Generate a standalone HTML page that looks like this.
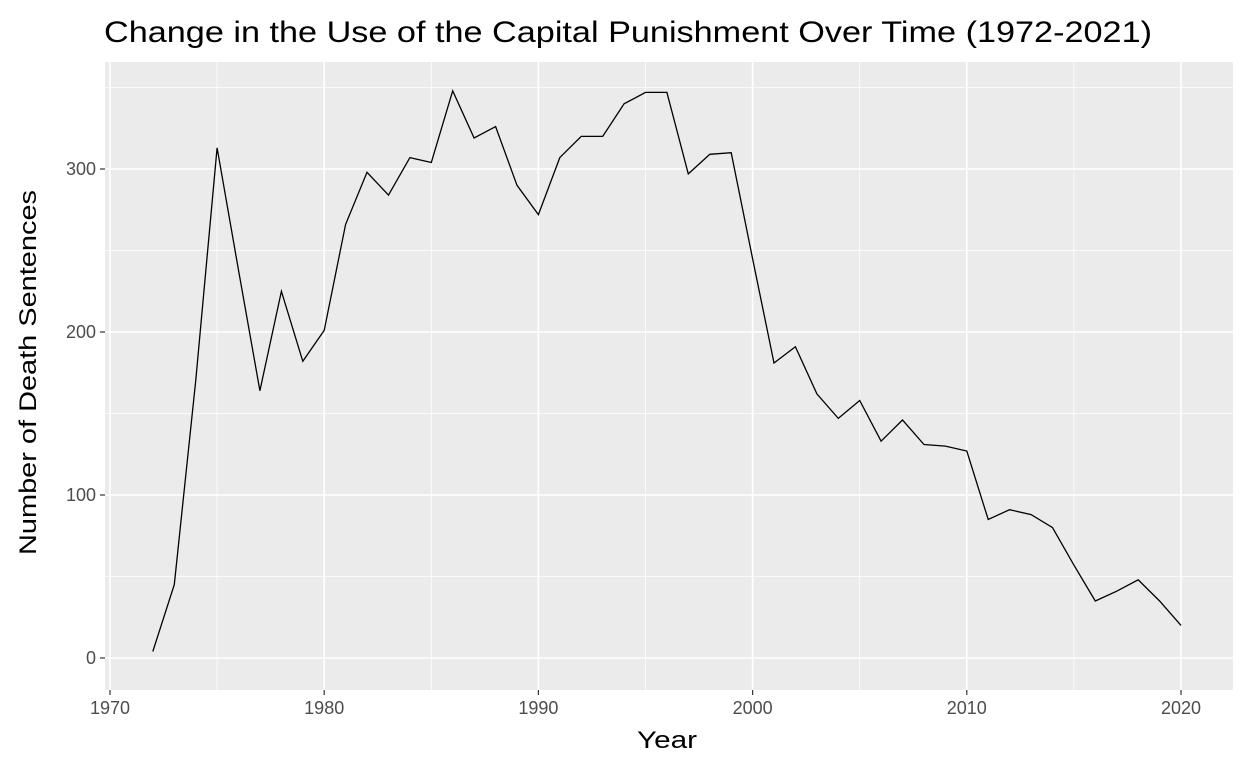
<!DOCTYPE html>
<html><head><meta charset="utf-8"><style>
body{margin:0;background:#fff;}
svg{display:block;font-family:"Liberation Sans",Arial,sans-serif;}
</style></head><body>
<svg id="chart" width="1248" height="768">
<text x="104" y="42" font-size="30" textLength="1048" lengthAdjust="spacingAndGlyphs" fill="#000">Change in the Use of the Capital Punishment Over Time (1972-2021)</text>
<rect x="105" y="62" width="1128" height="628" fill="#ebebeb"/>
<g id="grid"></g>
<g id="axes"></g>
<path id="line" fill="none" stroke="#000" stroke-width="1.3"/>
<text x="637" y="748" font-size="24" textLength="60" lengthAdjust="spacingAndGlyphs" fill="#000">Year</text>
<text transform="translate(36,555) rotate(-90)" font-size="24" textLength="365" lengthAdjust="spacingAndGlyphs" fill="#000">Number of Death Sentences</text>
</svg>
<script>
const years=[1972,1973,1974,1975,1976,1977,1978,1979,1980,1981,1982,1983,1984,1985,1986,1987,1988,1989,1990,1991,1992,1993,1994,1995,1996,1997,1998,1999,2000,2001,2002,2003,2004,2005,2006,2007,2008,2009,2010,2011,2012,2013,2014,2015,2016,2017,2018,2019,2020];
const sentences=[4,45,170,313,238,164,225,182,201,266,298,284,307,304,348,319,326,290,272,307,320,320,340,347,347,297,309,310,245,181,191,162,147,158,133,146,131,130,127,85,91,88,80,57,35,41,48,35,20];
const xTicks=[1970,1980,1990,2000,2010,2020];
const yTicks=[0,100,200,300];
const xMinor=[1975,1985,1995,2005,2015];
const yMinor=[50,150,250,350];
const NS="http://www.w3.org/2000/svg";
const X=v=>110+(v-1970)*21.42;
const Y=v=>658-v*1.63;
const grid=document.getElementById('grid'),axes=document.getElementById('axes');
function ln(p,x1,y1,x2,y2,c,w){const l=document.createElementNS(NS,'line');l.setAttribute('x1',x1);l.setAttribute('y1',y1);l.setAttribute('x2',x2);l.setAttribute('y2',y2);l.setAttribute('stroke',c);l.setAttribute('stroke-width',w);p.appendChild(l);return l;}
function tx(p,x,y,s,a){const t=document.createElementNS(NS,'text');t.setAttribute('x',x);t.setAttribute('y',y);t.setAttribute('font-size','18');t.setAttribute('fill','#4d4d4d');t.setAttribute('text-anchor',a);t.textContent=s;p.appendChild(t);return t;}
xMinor.forEach(v=>{const l=ln(grid,X(v),62,X(v),690,'#fff',0.8);

});
yMinor.forEach(v=>{const l=ln(grid,105,Y(v),1233,Y(v),'#fff',0.8);

});
xTicks.forEach(v=>{const l=ln(grid,X(v),62,X(v),690,'#fff',1.6);


ln(axes,X(v),690,X(v),695,'#333',1.2);
const t=tx(axes,X(v),714,v,'middle');

});
yTicks.forEach(v=>{const l=ln(grid,105,Y(v),1233,Y(v),'#fff',1.6);


ln(axes,100,Y(v),105,Y(v),'#333',1.2);
const t=tx(axes,96,Y(v)+6,v,'end');

});
document.getElementById('line').setAttribute('d',years.map((y,i)=>(i?'L':'M')+X(y).toFixed(1)+','+Y(sentences[i]).toFixed(1)).join(''));
</script>
</body></html>
